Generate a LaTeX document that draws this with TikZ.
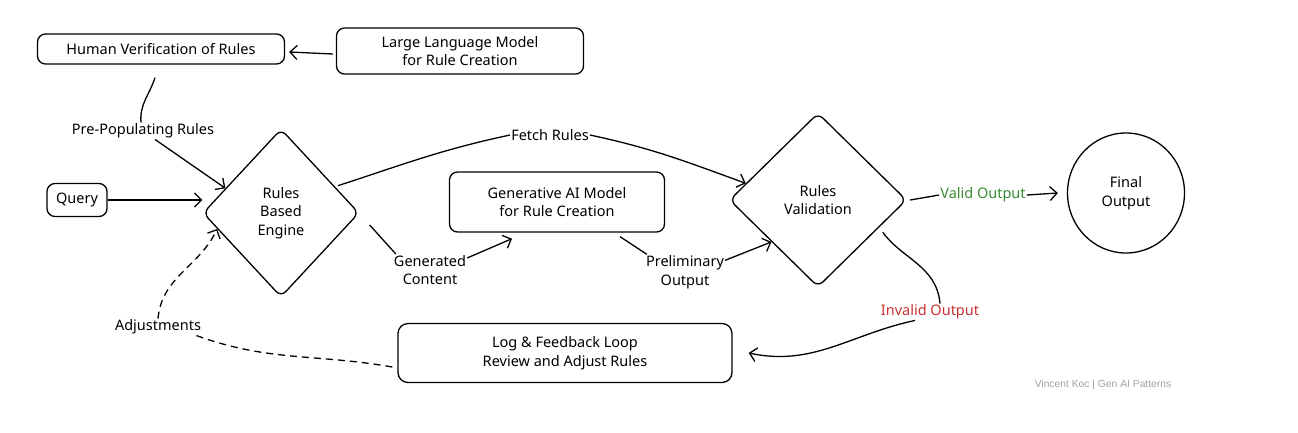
\documentclass[tikz,border=0pt]{standalone}
\usepackage{fontspec}
\setmainfont{Noto Sans}
\newfontfamily\wmfont{Liberation Sans}
\usetikzlibrary{shapes.geometric,arrows.meta}
\definecolor{okgreen}{RGB}{56,140,48}
\definecolor{badred}{RGB}{200,48,48}
\definecolor{wmgray}{RGB}{160,160,160}
\begin{document}
\begin{tikzpicture}[x=1pt,y=-1pt,
  every node/.style={font=\fontsize{14.5}{18.5}\selectfont, align=center},
  box/.style={draw, line width=1.3pt, rounded corners=8pt, inner sep=0pt},
  dia/.style={draw, diamond, line width=1.3pt, rounded corners=7pt, inner sep=0pt},
  lbl/.style={inner sep=1pt},
  conn/.style={line width=1.3pt},
  arr/.style={line width=1.3pt, -{Straight Barb[length=7pt,width=14pt,line width=1.3pt]}},
  dsh/.style={dashed, dash pattern=on 7pt off 5pt}
]
\useasboundingbox (0,0) rectangle (1298,432);
% nodes
\node[box, minimum width=247pt, minimum height=30pt] (hum) at (161,49) {Human Verification of Rules};
\node[box, minimum width=247pt, minimum height=46pt] (llm) at (460,51) {Large Language Model\\for Rule Creation};
\node[box, minimum width=60pt, minimum height=33pt] (q) at (77,200) {Query};
\node[dia, minimum width=156pt, minimum height=168pt] (eng) at (281,213) {Rules\\Based\\Engine};
\node[box, minimum width=215pt, minimum height=60pt] (gen) at (557,202) {Generative AI Model\\for Rule Creation};
\node[dia, minimum width=177pt, minimum height=174pt] (val) at (818,200) {Rules\\Validation};
\node[draw, ellipse, line width=1.3pt, minimum width=117pt, minimum height=120pt] (fin) at (1126,193) {Final\\Output};
\node[box, minimum width=334pt, minimum height=59pt, rounded corners=10pt] (log) at (565,353) {Log \& Feedback Loop\\Review and Adjust Rules};
% labels
\node[lbl] (pp) at (143,131) {Pre-Populating Rules};
\node[lbl] (fr) at (550,135) {Fetch Rules};
\node[lbl] (gc) at (430,270) {Generated\\Content};
\node[lbl] (po) at (685,272) {Preliminary\\Output};
\node[lbl, text=okgreen] (vo) at (983,195) {Valid Output};
\node[lbl, text=badred] (io) at (930,312) {Invalid Output};
\node[lbl] (adj) at (158,327) {Adjustments};
\node[font=\wmfont\fontsize{10.3}{12}\selectfont, text=wmgray] (wm) at (1103,385) {Vincent Koc | Gen AI Patterns};
% connectors
\draw[arr] ([xshift=-3pt,yshift=-3pt]llm.west) -- ([xshift=4pt,yshift=-3pt]hum.east);
\draw[conn] ([xshift=-6pt,yshift=-13pt]hum.south) to[out=-108,in=95] ([xshift=-2pt]pp.north);
\draw[arr] ([xshift=12pt]pp.south) -- (eng.156);
\draw[arr] (q.east) -- (eng.west |- q.east);
\draw[conn, shorten <=3pt] (eng.26) to[out=18,in=192] (fr.west);
\draw[arr] (fr.east) to[out=-12,in=160] (val.167);
\draw[conn] ([xshift=10pt,yshift=-12pt]eng.east) -- ([xshift=3pt]gc.north west);
\draw[arr] ([yshift=-4pt]gc.north east) -- ([xshift=-45pt,yshift=-6pt]gen.south);
\draw[conn] ([xshift=63pt,yshift=-4pt]gen.south) -- ([xshift=2pt]po.north west);
\draw[arr] ([yshift=-6pt]po.north east) -- (val.222);
\draw[conn] ([xshift=3pt]val.east) -- (vo.west);
\draw[arr] (vo.east) -- ([xshift=-9pt]fin.west);
\draw[conn, shorten <=6pt] (val.-24) to[out=-55,in=95] ([xshift=10pt]io.north);
\draw[arr] ([xshift=-15pt]io.south) to[out=192,in=-12] ([xshift=16pt]log.east);
\draw[conn, dsh] ([xshift=-5pt,yshift=-14pt]log.west) to[out=170,in=-20] ([xshift=-6pt]adj.south east);
\draw[arr, dsh] (adj.north) to[out=85,in=-115] (eng.194);
\end{tikzpicture}
\end{document}
